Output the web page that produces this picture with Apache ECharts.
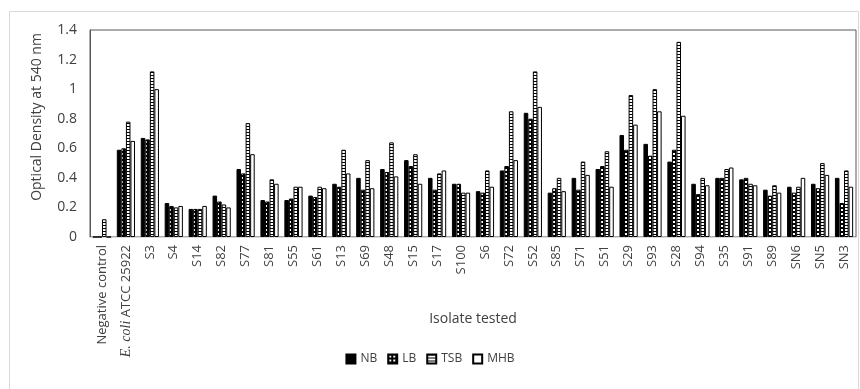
<!DOCTYPE html>
<html>
<head>
<meta charset="utf-8">
<script src="https://cdn.jsdelivr.net/npm/echarts@6/dist/echarts.min.js"></script>
<style>
  html, body { margin: 0; padding: 0; background: #fff; }
  #chart { width: 860px; height: 389px; }
</style>
</head>
<body>
<div id="chart"></div>
<script>
// isolates on the x axis
const categories = ['Negative control', 'E. coli ATCC 25922', 'S3', 'S4', 'S14', 'S82', 'S77', 'S81', 'S55', 'S61',
  'S13', 'S69', 'S48', 'S15', 'S17', 'S100', 'S6', 'S72', 'S52', 'S85', 'S71', 'S51', 'S29', 'S93', 'S28',
  'S94', 'S35', 'S91', 'S89', 'SN6', 'SN5', 'SN3']

// optical density per medium
const nb = [0, 0.59, 0.67, 0.23, 0.19, 0.28, 0.46, 0.25, 0.25, 0.28, 0.36, 0.40, 0.46, 0.52, 0.40, 0.36,
  0.31, 0.45, 0.84, 0.30, 0.40, 0.46, 0.69, 0.63, 0.51, 0.36, 0.40, 0.39, 0.32, 0.34, 0.36, 0.40]
const lb = [0, 0.60, 0.66, 0.21, 0.19, 0.24, 0.43, 0.24, 0.26, 0.27, 0.34, 0.32, 0.44, 0.48, 0.32, 0.36,
  0.30, 0.48, 0.80, 0.33, 0.32, 0.48, 0.59, 0.55, 0.59, 0.29, 0.40, 0.40, 0.28, 0.30, 0.33, 0.23]
const tsb = [0.12, 0.78, 1.12, 0.20, 0.19, 0.22, 0.77, 0.39, 0.34, 0.34, 0.59, 0.52, 0.64, 0.56, 0.43, 0.30,
  0.45, 0.85, 1.12, 0.40, 0.51, 0.58, 0.96, 1.00, 1.32, 0.40, 0.46, 0.36, 0.35, 0.34, 0.50, 0.45]
const mhb = [0, 0.65, 1.00, 0.21, 0.21, 0.20, 0.56, 0.36, 0.34, 0.33, 0.43, 0.33, 0.41, 0.36, 0.45, 0.30,
  0.34, 0.52, 0.88, 0.31, 0.42, 0.34, 0.76, 0.85, 0.82, 0.35, 0.47, 0.35, 0.30, 0.40, 0.42, 0.34]

const seriesNames = ['NB', 'LB', 'TSB', 'MHB']

// small canvas tiles used as bar fills
const makeTile = (w, h, draw) => {
  const c = document.createElement('canvas')
  c.width = w
  c.height = h
  draw(c.getContext('2d'))
  return { image: c, repeat: 'repeat' }
}
const lbFill = makeTile(4, 4, (ctx) => {
  ctx.fillStyle = '#000'
  ctx.fillRect(0, 0, 4, 4)
  ctx.fillStyle = '#fff'
  ctx.fillRect(1, 1, 2, 2)
})
const tsbFill = makeTile(3, 3, (ctx) => {
  ctx.fillStyle = '#fff'
  ctx.fillRect(0, 0, 3, 3)
  ctx.fillStyle = '#000'
  ctx.fillRect(0, 0, 3, 1)
})
const fills = ['#000', lbFill, tsbFill, '#fff']
const data = [nb, lb, tsb, mhb]

const font = "'Open Sans', 'Liberation Sans', sans-serif"
const chart = echarts.init(document.getElementById('chart'))

chart.setOption({
  animation: false,
  textStyle: { fontFamily: font },
  graphic: [
    {
      type: 'rect',
      shape: { x: 9.5, y: 11.5, width: 849, height: 390 },
      style: { fill: 'none', stroke: '#d9d9d9', lineWidth: 1 },
      silent: true
    }
  ],
  legend: {
    top: 348,
    left: 'center',
    icon: 'rect',
    itemWidth: 9,
    itemHeight: 9,
    itemGap: 10,
    textStyle: { fontSize: 12, color: '#404040', fontFamily: font },
    data: seriesNames
  },
  grid: {
    left: 90,
    right: 4,
    top: 30,
    bottom: 152,
    show: true,
    borderColor: '#595959',
    borderWidth: 1
  },
  xAxis: {
    type: 'category',
    data: categories,
    name: 'Isolate tested',
    nameLocation: 'middle',
    nameGap: 75,
    nameMoveOverlap: false,
    nameTextStyle: { fontSize: 14, color: '#404040', fontFamily: font },
    axisLine: { lineStyle: { color: '#d9d9d9' } },
    axisTick: { show: false },
    axisLabel: {
      rotate: 90,
      interval: 0,
      margin: 8,
      fontSize: 13,
      color: '#404040',
      formatter: (v) => (v.startsWith('E. coli') ? '{i|E. coli}' + v.slice(7) : v),
      rich: {
        i: { fontStyle: 'italic', fontFamily: 'Liberation Serif', fontSize: 14, color: '#404040' }
      }
    }
  },
  yAxis: {
    type: 'value',
    min: 0,
    max: 1.4,
    interval: 0.2,
    name: 'Optical Density at 540 nm',
    nameLocation: 'middle',
    nameGap: 46,
    nameTextStyle: { fontSize: 14, color: '#404040', fontFamily: font, padding: [0, 0, 0, 33] },
    axisLine: { show: true, lineStyle: { color: '#595959' } },
    axisTick: { show: false },
    splitLine: { show: false },
    axisLabel: { fontSize: 14, color: '#404040', margin: 13 }
  },
  series: seriesNames.map((name, i) => ({
    name,
    type: 'bar',
    data: data[i],
    barGap: '0%',
    barCategoryGap: '24%',
    itemStyle: { color: fills[i], borderColor: '#000', borderWidth: 1 }
  }))
})
</script>
</body>
</html>
